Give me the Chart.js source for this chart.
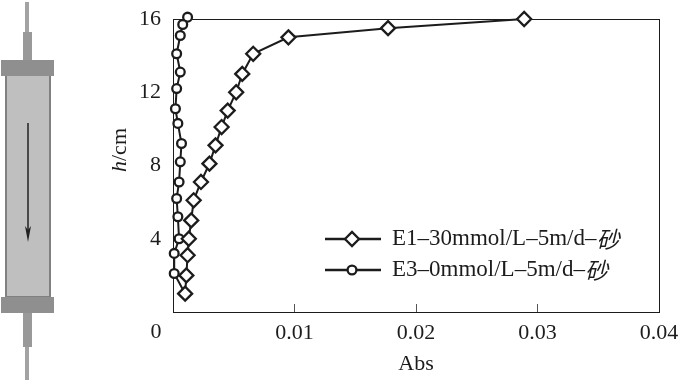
<!DOCTYPE html>
<html>
<head>
<meta charset="utf-8">
<style>
    html, body { margin: 0; padding: 0; background: #fff; overflow: hidden; }
    #wrap { position: relative; width: 681px; height: 383px; }
    #column { position: absolute; left: 0; top: 0; }
    #absChart { position: absolute; left: 0; top: 0; }
</style>
<script src="https://cdn.jsdelivr.net/npm/chart.js@4"></script>
</head>
<body>
<div id="wrap">
    <!-- column sketch on the left -->
    <svg id="column" width="70" height="383">
        <rect x="25" y="2" width="4" height="30" fill="#a3a3a3"/>
        <rect x="23" y="32" width="9" height="28" fill="#999"/>
        <rect x="6" y="74" width="44" height="223" fill="#bfbfbf" stroke="#808080" stroke-width="2"/>
        <rect x="1" y="60" width="53" height="16" fill="#8f8f8f"/>
        <rect x="1" y="297" width="53" height="16" fill="#8f8f8f"/>
        <rect x="23" y="313" width="9" height="34" fill="#999"/>
        <rect x="25" y="347" width="4" height="33" fill="#a3a3a3"/>
        <line x1="28" y1="123" x2="28" y2="230" stroke="#222" stroke-width="1.5"/>
        <path d="M25 226 L28 230 L31 226 L28 242 Z" fill="#222"/>
    </svg>
    <canvas id="absChart" width="681" height="383"></canvas>
</div>
<script>
var xTickLabels = ['0', '0.01', '0.02', '0.03', '0.04'];
var yTickLabels = ['0', '4', '8', '12', '16'];

var e1Name = 'E1\u201330mmol/L\u20135m/d\u2013';
var e1H = [16, 15.5, 15, 14.1, 13, 12, 11, 10.1, 9.1, 8.1, 7.1, 6.1, 5, 4, 3.1, 2, 1];
var e1Abs = [0.0289, 0.0177, 0.0095, 0.0066, 0.0057, 0.0052, 0.0045, 0.004, 0.0035, 0.003, 0.0023, 0.0017, 0.0015, 0.0013, 0.0012, 0.0011, 0.0010];

var e3Name = 'E3\u20130mmol/L\u20135m/d\u2013';
var e3H = [16.1, 15.7, 15.1, 14.1, 13.1, 12.2, 11.1, 10.3, 9.2, 8.2, 7.1, 6.2, 5.2, 4, 3.2, 2.1, 1];
var e3Abs = [0.0012, 0.0008, 0.0006, 0.0003, 0.0006, 0.0003, 0.0002, 0.0004, 0.0007, 0.0006, 0.0005, 0.0003, 0.0004, 0.0005, 0.0001, 0.0001, 0.001];

var SERIF = '"Liberation Serif", "Noto Sans CJK SC", serif';
var INK = '#1c1c1c';

function toPoints(xs, ys) {
    return xs.map((x, i) => ({ x: x, y: ys[i] }));
}

// stop the axes from pushing the plot area in for their labels
function fixScale(scale) {
    scale.paddingLeft = 0;
    scale.paddingRight = 0;
    scale.paddingTop = 0;
    scale.paddingBottom = 0;
}

// frame, plus the texts the axes cannot do (italic h, the offset 0, legend)
var framePlugin = {
    id: 'frame',
    beforeDatasetsDraw: function (chart) {
        var a = chart.chartArea, ctx = chart.ctx;
        ctx.save();
        ctx.strokeStyle = INK;
        ctx.lineWidth = 1;
        ctx.strokeRect(Math.round(a.left) + 0.5, Math.round(a.top) + 0.5, Math.round(a.width), Math.round(a.height));
        ctx.restore();
    },
    afterDraw: function (chart) {
        var ctx = chart.ctx;
        ctx.save();
        ctx.fillStyle = INK;
        ctx.textBaseline = 'middle';

        ctx.textAlign = 'center';
        ctx.font = '22px ' + SERIF;
        ctx.fillText(xTickLabels[0], 156, 332);

        // y title
        ctx.save();
        ctx.translate(120, 172);
        ctx.rotate(-Math.PI / 2);
        ctx.textAlign = 'left';
        ctx.font = 'italic 22px ' + SERIF;
        ctx.fillText('h', 0, 0);
        var w = ctx.measureText('h').width;
        ctx.font = '22px ' + SERIF;
        ctx.fillText('/cm', w, 0);
        ctx.restore();

        // legend
        drawLegendRow(chart, 0, 239, 7);
        drawLegendRow(chart, 1, 270, 4.4);
        ctx.restore();
    }
};

function drawLegendRow(chart, index, y, radius) {
    var ctx = chart.ctx;
    var ds = chart.data.datasets[index];
    ctx.strokeStyle = INK;
    ctx.lineWidth = 2.3;
    ctx.beginPath();
    ctx.moveTo(325, y);
    ctx.lineTo(381, y);
    ctx.stroke();
    ctx.fillStyle = '#fff';
    Chart.helpers.drawPoint(ctx, {
        pointStyle: ds.pointStyle,
        radius: radius,
        rotation: 0,
        borderWidth: 2.3
    }, 352, y);
    ctx.fillStyle = INK;
    ctx.textAlign = 'left';
    ctx.font = '23px ' + SERIF;
    ctx.fillText(ds.label, 392, y);
    var w = ctx.measureText(ds.label).width;
    ctx.font = 'italic 23px "Noto Sans CJK SC", ' + SERIF;
    ctx.fillText('\u7802', 392 + w, y);
}

var ctx = document.getElementById('absChart').getContext('2d');
var chart = new Chart(ctx, {
    type: 'scatter',
    data: {
        datasets: [{
            label: e1Name,
            data: toPoints(e1Abs, e1H),
            showLine: true,
            clip: false,
            pointStyle: 'rectRot',
            pointRadius: 7,
            pointBorderWidth: 2.3,
            pointBackgroundColor: '#fff',
            pointBorderColor: INK,
            borderColor: INK,
            borderWidth: 2
        }, {
            label: e3Name,
            data: toPoints(e3Abs, e3H),
            showLine: true,
            clip: false,
            pointStyle: 'circle',
            pointRadius: 4.4,
            pointBorderWidth: 2.3,
            pointBackgroundColor: '#fff',
            pointBorderColor: INK,
            borderColor: INK,
            borderWidth: 2
        }]
    },
    options: {
        responsive: false,
        animation: false,
        events: [],
        layout: { padding: { top: 19, right: 22, left: 0, bottom: 0 } },
        plugins: { legend: { display: false }, tooltip: { enabled: false } },
        scales: {
            x: {
                type: 'linear',
                min: 0,
                max: 0.04,
                afterFit: function (scale) { scale.height = 71; fixScale(scale); },
                border: { display: false },
                grid: { drawOnChartArea: false, tickLength: -8, tickColor: '#555', tickWidth: 1 },
                ticks: {
                    stepSize: 0.01,
                    maxRotation: 0,
                    padding: 16,
                    color: INK,
                    font: { family: SERIF, size: 22 },
                    callback: function (value, index) { return index === 0 ? '' : xTickLabels[index]; }
                },
                title: {
                    display: true,
                    text: 'Abs',
                    color: INK,
                    font: { family: SERIF, size: 22 },
                    padding: { top: 0, bottom: 6 }
                }
            },
            y: {
                min: 0,
                max: 16,
                afterFit: function (scale) { scale.width = 173; fixScale(scale); },
                border: { display: false },
                grid: { display: false, drawTicks: false },
                ticks: {
                    stepSize: 4,
                    padding: 12,
                    color: INK,
                    font: { family: SERIF, size: 22 },
                    callback: function (value, index) { return index === 0 ? '' : yTickLabels[index]; }
                }
            }
        }
    },
    plugins: [framePlugin]
});
</script>
</body>
</html>
